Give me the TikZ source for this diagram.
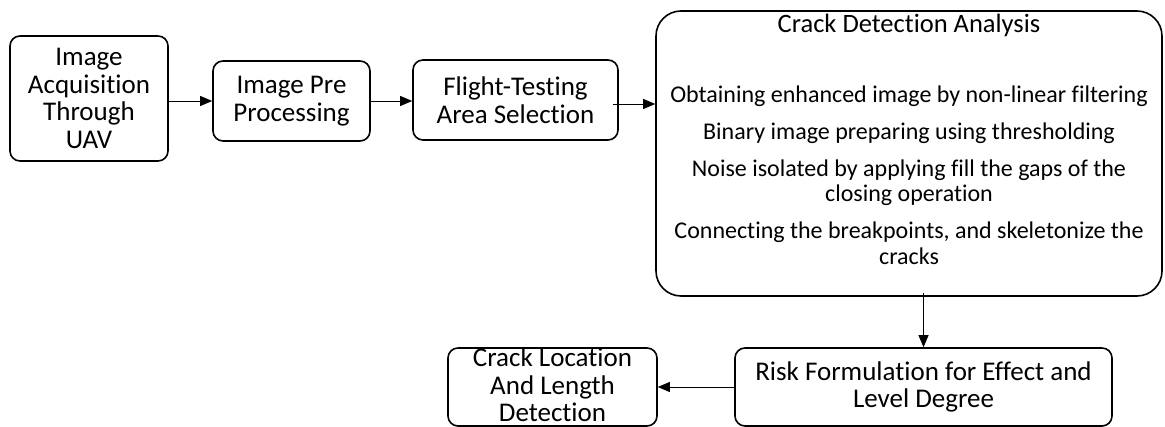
\documentclass[tikz,border=0pt]{standalone}
\usepackage{fontspec}
\setmainfont{Carlito}[Ligatures=NoCommon]
\usetikzlibrary{arrows.meta}

\begin{document}
\begin{tikzpicture}[x=1pt,y=-1pt,
    stage/.style={draw=black, line width=1.6pt, rounded corners=10pt, align=center, inner sep=0pt},
    flow/.style={black, line width=0.9pt, -{Triangle[length=12pt,width=10pt]}}]
    \tikzstyle{every node}+=[font=\fontsize{27}{27.5}\selectfont]
    \useasboundingbox (0,0) rectangle (1165,427);
    % top row
    \node[stage, minimum width=158pt, minimum height=125pt] (acq) at (89,98.5) {Image\\Acquisition\\Through\\UAV};
    \node[stage, minimum width=157pt, minimum height=80pt] (pre) at (291.5,101) {Image Pre\\Processing};
    \node[stage, minimum width=205pt, minimum height=80pt] (sel) at (515.5,100) {Flight-Testing\\Area Selection};
    \node[stage, rounded corners=25pt, minimum width=506pt, minimum height=285pt] (crack) at (909,153.5) {};
    \node[anchor=base, font=\fontsize{26.5}{27.5}\selectfont] (title) at (909,33) {Crack Detection Analysis};
    \node[align=center, font=\fontsize{24}{25.5}\selectfont] (steps) at (909,175)
        {Obtaining enhanced image by non-linear filtering\\[11.5pt]
         Binary image preparing using thresholding\\[11.5pt]
         Noise isolated by applying fill the gaps of the\\closing operation\\[11.5pt]
         Connecting the breakpoints, and skeletonize the\\cracks};
    % bottom row
    \node[stage, minimum width=377pt, minimum height=78pt] (risk) at (923.5,387) {Risk Formulation for Effect and\\Level Degree};
    \node[stage, minimum width=209pt, minimum height=78pt] (loc) at (552.5,387) {};
    \node[align=center] (loctext) at (552.5,385) {Crack Location\\And Length\\Detection};
    % arrows
    \draw[flow] (acq.east |- pre.west) -- (pre.west);
    \draw[flow] (pre.east) -- (pre.east -| sel.west);
    \draw[flow] ([xshift=-6pt,yshift=-4pt]sel.east) -- ([yshift=-4pt]sel.east -| crack.west);
    \draw[flow] ([yshift=4pt]crack.south -| risk.north) -- (risk.north);
    \draw[flow] (risk.west) -- (loc.east);
\end{tikzpicture}
\end{document}
